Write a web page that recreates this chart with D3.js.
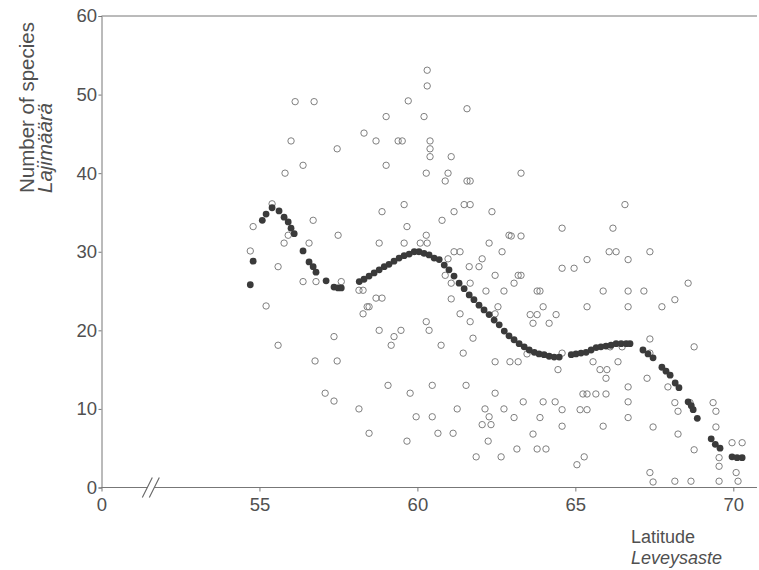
<!DOCTYPE html>
<html>
<head>
<meta charset="utf-8">
<script src="https://cdn.jsdelivr.net/npm/d3@7"></script>
<style>
  html, body { margin: 0; padding: 0; background: #fff; }
  svg { display: block; }
  text { font-family: "Liberation Sans", Arial, Helvetica, sans-serif; fill: #505050; }
</style>
</head>
<body>
<svg id="chart" width="759" height="570"></svg>
<script>
// ---- Data ----
// Observed number of species per site (open circles)
const obsLat = [
  54.71,54.80,55.21,55.40,55.59,55.59,55.81,55.78,55.91,56.00,56.13,56.38,56.38,56.57,56.73,56.70,56.79,56.76,57.08,57.36,57.46,57.49,57.46,57.59,57.36,
  58.15,58.28,58.31,58.69,58.69,58.88,58.41,58.47,58.28,58.79,59.26,58.79,58.88,59.01,59.01,59.39,59.52,59.58,59.67,59.58,59.71,60.09,60.31,60.28,60.21,
  60.31,60.31,60.40,60.40,60.40,60.28,61.07,60.97,60.88,61.57,61.67,61.57,61.48,61.67,61.16,60.78,61.16,61.35,60.97,62.05,61.64,61.95,60.88,61.07,61.67,
  62.17,61.07,61.35,60.28,61.67,59.48,60.37,59.17,60.75,61.76,61.45,59.07,60.47,61.54,59.77,58.15,58.47,59.96,60.47,61.26,62.14,62.27,62.05,60.65,61.13,
  59.67,62.24,61.86,
  62.36,62.27,62.68,62.46,62.90,62.74,62.55,62.46,62.46,62.93,62.46,62.74,62.33,62.65,63.28,62.97,63.28,63.19,63.28,63.06,63.79,63.88,63.98,63.57,63.79,
  64.39,63.66,64.17,63.19,63.47,64.58,64.45,64.58,64.58,64.96,65.37,65.56,66.35,66.10,65.78,66.00,65.97,65.24,65.37,65.65,65.97,63.35,63.98,64.36,64.58,
  65.15,65.37,63.06,63.88,64.58,65.88,63.66,63.15,63.79,64.07,65.05,65.28,65.37,65.88,66.19,66.07,66.29,66.57,66.67,66.67,66.67,66.67,66.67,66.67,67.17,
  67.36,67.74,67.36,67.36,67.27,67.93,67.46,67.36,67.46,68.15,68.57,68.76,68.15,68.25,68.63,69.36,69.45,68.25,69.45,68.76,69.96,70.28,69.55,69.55,70.09,
  68.15,68.66,69.55,70.15,66.48
];
const obsSpecies = [
  30.1,33.2,23.1,36.1,28.1,18.1,40.0,31.1,32.1,44.1,49.1,41.0,26.2,31.1,49.1,34.0,26.2,16.1,12.0,11.0,16.1,32.1,43.1,26.2,19.2,
  25.1,25.1,45.1,44.1,24.1,24.1,23.0,23.0,22.1,20.0,19.2,31.1,35.1,41.0,47.2,44.1,44.1,36.0,33.2,31.1,49.2,31.1,31.1,32.1,47.2,
  53.1,51.1,44.1,43.1,42.1,40.0,42.1,40.0,39.0,39.0,39.0,48.2,36.0,36.0,35.1,34.0,30.0,30.0,29.1,29.1,28.1,28.1,27.0,26.0,26.0,
  25.0,24.0,22.1,21.1,21.1,20.0,20.0,18.1,18.1,19.0,17.1,13.0,13.0,13.0,12.0,10.0,6.9,9.0,9.0,10.0,10.0,9.0,8.0,6.9,6.9,
  5.9,5.9,3.9,
  35.1,31.1,30.0,27.0,32.1,25.0,23.0,22.1,16.0,16.0,12.0,10.0,8.0,3.9,40.0,32.0,32.0,27.0,27.0,26.0,25.0,25.0,23.0,22.0,22.0,
  22.0,20.9,20.9,16.0,17.0,17.1,15.0,33.0,27.9,27.9,29.0,16.0,16.0,17.9,15.0,15.0,13.9,11.9,11.9,11.9,11.9,10.9,10.9,10.9,9.9,
  9.9,9.9,8.9,8.9,7.8,7.8,6.8,4.9,4.9,4.9,2.9,3.9,23.0,25.0,33.0,30.0,30.0,36.0,29.0,25.0,23.0,12.8,10.9,8.9,25.0,
  30.0,23.0,18.9,17.1,13.9,12.8,7.7,1.9,0.7,23.9,26.0,17.9,10.8,9.7,10.8,10.8,9.7,6.8,7.7,4.8,5.7,5.7,3.8,2.7,1.9,
  0.8,0.8,0.8,0.8,17.9
];
// Smoothed trend evaluated at sampled latitudes (filled dots)
const fitLat = [
  54.71,54.80,55.09,55.21,55.40,55.62,55.78,55.91,56.00,56.10,56.38,56.57,56.70,56.79,57.11,57.36,57.49,57.59,
  58.16,58.31,58.47,58.63,58.79,58.95,59.10,59.26,59.42,59.58,59.74,59.90,60.05,60.21,60.37,60.53,60.69,60.85,61.00,
  61.16,61.32,61.48,61.64,61.79,61.95,62.11,62.27,62.43,62.59,62.75,62.90,63.06,63.22,63.38,63.54,63.70,63.85,64.01,
  64.17,64.33,64.49,
  64.87,65.02,65.18,65.34,65.50,65.66,65.81,65.97,66.13,66.29,66.45,66.61,66.73,
  67.14,67.30,67.46,67.74,67.87,68.00,68.16,68.28,68.57,68.67,68.73,68.86,69.30,69.43,69.58,69.96,70.12,70.28
];
const fitSpecies = [
  25.8,28.8,34.0,34.8,35.6,35.2,34.4,33.8,33.0,32.3,30.1,28.7,28.1,27.4,26.3,25.5,25.4,25.4,
  26.2,26.5,26.9,27.3,27.7,28.1,28.4,28.8,29.2,29.5,29.7,30.0,30.0,29.8,29.6,29.2,29.0,28.3,27.7,
  26.9,26.0,25.3,24.5,23.9,23.2,22.6,22.0,21.3,20.7,19.9,19.3,18.8,18.3,17.9,17.5,17.2,17.0,16.9,
  16.7,16.6,16.6,
  16.9,17.0,17.1,17.2,17.5,17.8,17.9,18.0,18.1,18.3,18.3,18.3,18.3,
  17.5,17.0,16.5,15.3,14.8,14.3,13.3,12.7,10.9,10.4,9.9,8.8,6.2,5.5,5.0,3.9,3.8,3.8
];
// Axis ticks
const xTickValues = [50, 55, 60, 65, 70];
const xTickLabels = ["0", "55", "60", "65", "70"];
const yTickValues = [0, 10, 20, 30, 40, 50, 60];
const yTitle = ["Number of species", "Lajimäärä"];
const xTitle = ["Latitude", "Leveysaste"];

// ---- Drawing ----
const svg = d3.select("#chart");
const x = d3.scaleLinear().domain([50, 70]).range([101.5, 733.3]);
const y = d3.scaleLinear().domain([0, 60]).range([487.5, 16]);
const xEnd = x(70.75);

const axisColor = "#777";
const tickFont = "18.5px";

// top frame line
svg.append("line")
  .attr("x1", x(50)).attr("x2", xEnd)
  .attr("y1", y(60)).attr("y2", y(60))
  .attr("stroke", axisColor).attr("stroke-width", 1);

// y axis
const gy = svg.append("g").attr("transform", `translate(${x(50)},0)`)
  .call(d3.axisLeft(y).tickValues(yTickValues).tickSize(3).tickPadding(1.5).tickFormat(d3.format("d")));
gy.select(".domain").attr("stroke", axisColor);
gy.selectAll(".tick line").attr("stroke", axisColor);
gy.selectAll(".tick text").style("font-size", tickFont).attr("fill", "#505050")
  .style("font-family", '"Liberation Sans", Arial, sans-serif');

// x axis
const gx = svg.append("g").attr("transform", `translate(0,${y(0)})`)
  .call(d3.axisBottom(x).tickValues(xTickValues).tickSize(4).tickPadding(6)
    .tickFormat((d, i) => xTickLabels[i]));
gx.select(".domain").attr("d", `M${x(50)},0H${xEnd}`).attr("stroke", axisColor);
gx.selectAll(".tick line").attr("stroke", axisColor);
gx.selectAll(".tick text").style("font-size", tickFont).attr("fill", "#505050")
  .style("font-family", '"Liberation Sans", Arial, sans-serif');

// axis break mark "//"
const bx = x(51.45);
const brk = svg.append("g").attr("transform", `translate(${bx},${y(0)})`);
brk.append("path").attr("d", "M-5,10 L5,-10 L12,-10 L2,10 Z").attr("fill", "#fff");
brk.append("line").attr("x1", -5).attr("y1", 10).attr("x2", 5).attr("y2", -10)
  .attr("stroke", "#666").attr("stroke-width", 1.1);
brk.append("line").attr("x1", 2).attr("y1", 10).attr("x2", 12).attr("y2", -10)
  .attr("stroke", "#666").attr("stroke-width", 1.1);

// open circles: observations
const obs = obsLat.map((d, i) => ({lat: d, n: obsSpecies[i]}));
svg.append("g").selectAll("circle").data(obs).join("circle")
  .attr("cx", d => x(d.lat)).attr("cy", d => y(d.n)).attr("r", 3.2)
  .attr("fill", "none").attr("stroke", "#808080").attr("stroke-width", 1);

// filled dots: smoothed trend
const fit = fitLat.map((d, i) => ({lat: d, n: fitSpecies[i]}));
svg.append("g").selectAll("circle").data(fit).join("circle")
  .attr("cx", d => x(d.lat)).attr("cy", d => y(d.n)).attr("r", 3.4)
  .attr("fill", "#3a3a3a");

// y title
const yt = svg.append("g");
yt.append("text").attr("transform", "translate(34,193) rotate(-90)")
  .style("font-size", "20.5px").text(yTitle[0]);
yt.append("text").attr("transform", "translate(52,193) rotate(-90)")
  .style("font-size", "20.5px").style("font-style", "italic").text(yTitle[1]);

// x title
svg.append("text").attr("x", 631).attr("y", 543).style("font-size", "18px").text(xTitle[0]);
svg.append("text").attr("x", 631).attr("y", 564).style("font-size", "18px").style("font-style", "italic").text(xTitle[1]);
</script>
</body>
</html>
